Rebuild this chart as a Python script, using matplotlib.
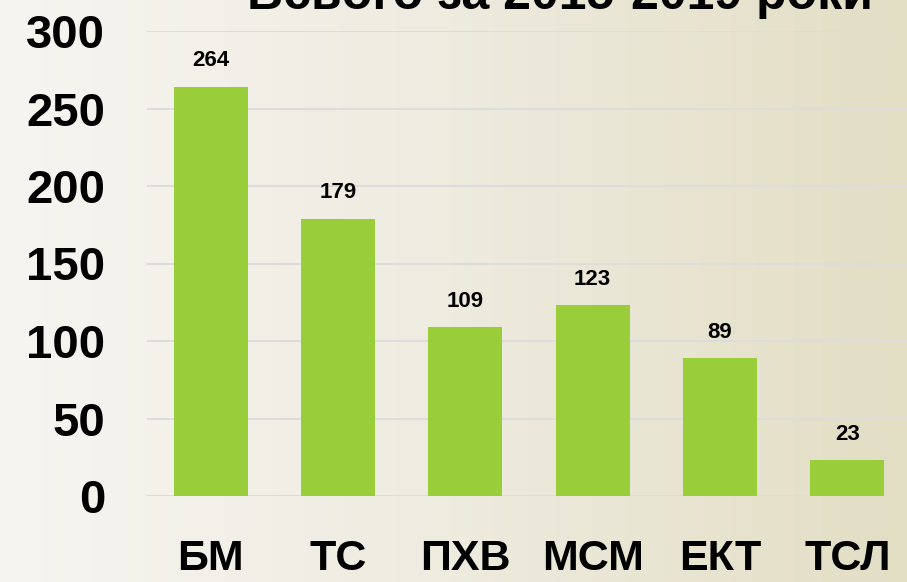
import numpy as np
import matplotlib
matplotlib.use("Agg")
import matplotlib.pyplot as plt
from matplotlib.colors import LinearSegmentedColormap

categories = ["БМ", "ТС", "ПХВ", "МСМ", "ЕКТ", "ТСЛ"]
values = [264, 179, 109, 123, 89, 23]
yticks = [0, 50, 100, 150, 200, 250, 300]
title = "Всього за 2015-2019 роки"

plt.rcParams['font.family'] = ['Liberation Sans', 'DejaVu Sans']

fig = plt.figure(figsize=(9.07, 5.82), dpi=100)

# background gradient
bg = fig.add_axes([0, 0, 1, 1], zorder=-10)
cmap = LinearSegmentedColormap.from_list("bg", ["#f6f5f1", "#eeebdf", "#e2dec4"])
grad = np.linspace(0, 1, 256).reshape(1, -1)
bg.imshow(grad, aspect="auto", cmap=cmap, extent=[0, 1, 0, 1])
bg.axis("off")

ax = fig.add_axes([147 / 907, 86 / 582, 764 / 907, 465 / 582])
ax.patch.set_alpha(0)
x = np.arange(len(categories))
ax.bar(x, values, width=0.58, color="#9acd3a", zorder=3)
for xi, v in zip(x, values):
    ax.text(xi, v + 10, str(v), ha="center", va="bottom", fontsize=16, fontweight="bold")

ax.set_xlim(-0.5, len(categories) - 0.5)
ax.set_ylim(0, 300)
ax.set_yticks(yticks)
ax.set_yticklabels([str(t) for t in yticks], fontsize=34, fontweight="bold")
ax.set_xticks(x)
ax.set_xticklabels(categories, fontsize=31, fontweight="bold")
ax.tick_params(axis="y", length=0, pad=30)
ax.tick_params(axis="x", length=0, pad=31)
ax.grid(axis="y", color="#dcdcdc", linewidth=1.5, zorder=0)
for s in ax.spines.values():
    s.set_visible(False)

fig.text(247 / 907, 1 - 9 / 582, title, ha="left", va="baseline",
         fontsize=36, fontweight="bold")

fig.savefig("out.png", dpi=100)
